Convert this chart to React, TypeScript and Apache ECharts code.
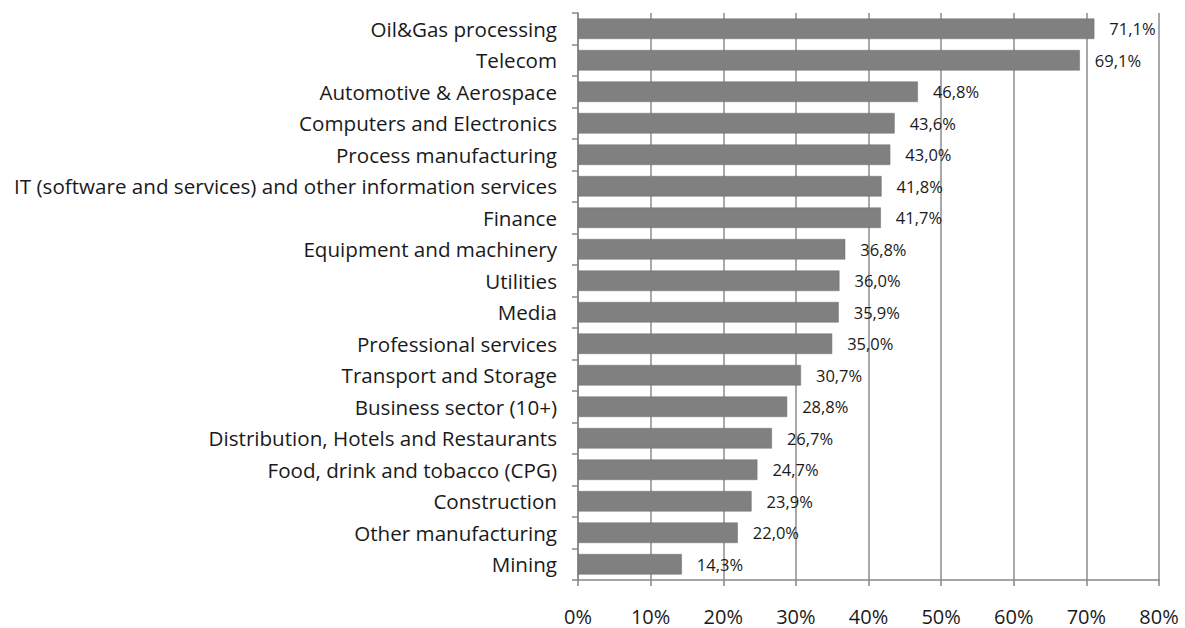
import React, { useEffect, useRef } from "react";
import * as echarts from "echarts";

const categories = [
  "Oil&Gas processing",
  "Telecom",
  "Automotive & Aerospace",
  "Computers and Electronics",
  "Process manufacturing",
  "IT (software and services) and other information services",
  "Finance",
  "Equipment and machinery",
  "Utilities",
  "Media",
  "Professional services",
  "Transport and Storage",
  "Business sector (10+)",
  "Distribution, Hotels and Restaurants",
  "Food, drink and tobacco (CPG)",
  "Construction",
  "Other manufacturing",
  "Mining",
];
const values = [71.1, 69.1, 46.8, 43.6, 43.0, 41.8, 41.7, 36.8, 36.0, 35.9, 35.0, 30.7, 28.8, 26.7, 24.7, 23.9, 22.0, 14.3];
const xTicks = [0, 10, 20, 30, 40, 50, 60, 70, 80];

export default function App() {
  const ref = useRef<HTMLDivElement>(null);
  useEffect(() => {
    const chart = echarts.init(ref.current!, null, { renderer: "svg" });
    const font = "'Open Sans', 'Liberation Sans', sans-serif";
    chart.setOption({
      animation: false,
      grid: { left: 578, right: 26, top: 13, bottom: 48, containLabel: false },
      xAxis: {
        type: "value",
        min: xTicks[0],
        max: xTicks[xTicks.length - 1],
        interval: 10,
        axisLine: { show: true, lineStyle: { color: "#868686", width: 1.5 } },
        axisTick: { show: true, length: 6, lineStyle: { color: "#868686", width: 1.5 } },
        splitLine: { show: true, lineStyle: { color: "#8c8c8c", width: 1.5 } },
        axisLabel: {
          formatter: (v: number) => `${v}%`,
          fontFamily: font,
          fontSize: 20,
          lineHeight: 20,
          color: "#1a1a1a",
          margin: 26,
        },
      },
      yAxis: {
        type: "category",
        data: categories,
        inverse: true,
        axisLine: { show: true, lineStyle: { color: "#868686", width: 1.5 } },
        axisTick: { show: true, length: 6, lineStyle: { color: "#868686", width: 1.5 } },
        axisLabel: {
          fontFamily: font,
          fontSize: 20.6,
          color: "#1a1a1a",
          margin: 21,
        },
      },
      series: [
        {
          type: "bar",
          data: values,
          barCategoryGap: "35%",
          itemStyle: { color: "#808080", borderColor: "#6f6f6f", borderWidth: 0.5 },
          label: {
            show: true,
            position: "right",
            distance: 15,
            fontFamily: font,
            fontSize: 16.5,
            color: "#1a1a1a",
            formatter: (p: any) => p.value.toFixed(1).replace(".", ",") + "%",
          },
        },
      ],
    });
    return () => chart.dispose();
  }, []);
  return (
    <div
      ref={ref}
      style={{ position: "fixed", left: 0, top: 0, width: 1185, height: 628, background: "#fff" }}
    />
  );
}
